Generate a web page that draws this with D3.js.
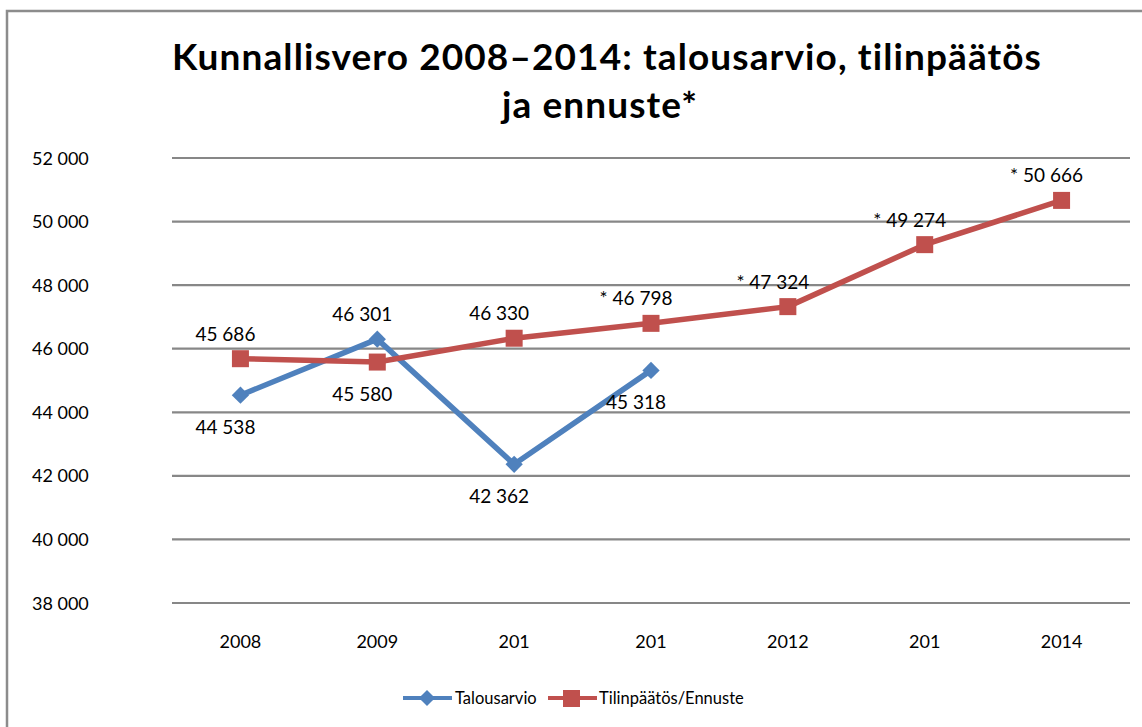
<!DOCTYPE html>
<html><head><meta charset="utf-8">
<script src="https://cdn.jsdelivr.net/npm/d3@7"></script>
<style>body{margin:0;background:#fff}svg{display:block}</style>
</head><body>
<svg id="c" width="1142" height="727"></svg>
<script>
const categories = ["2008","2009","201","201","2012","201","2014"];
const talousarvio = [44538, 46301, 42362, 45318, null, null, null];
const tilinpaatos = [45686, 45580, 46330, 46798, 47324, 49274, 50666];
const talousLabels = ["44 538","46 301","42 362","45 318"];
const tilinLabels = ["45 686","45 580","46 330","* 46 798","* 47 324","* 49 274","* 50 666"];
const talousLabelPos = ["below","above","below","below"];
const tilinLabelPos = ["above","below","above","above","above","above","above"];
const yTicks = [38000,40000,42000,44000,46000,48000,50000,52000];
const tickLabels = ["38 000","40 000","42 000","44 000","46 000","48 000","50 000","52 000"];
const seriesNames = ["Talousarvio","Tilinpäätös/Ennuste"];

const svg = d3.select("#c");
const font = "Lato, 'Open Sans', sans-serif";
const blue = "#4F81BD", red = "#C0504D";

// border
svg.append("path").attr("d","M7,740 L7,11 L1150,11").attr("fill","none").attr("stroke","#8c8c8c").attr("stroke-width",2.5);

const x = d3.scaleBand().domain(d3.range(categories.length)).range([172,1130]);
const y = d3.scaleLinear().domain([38000,52000]).range([603,158]);

// gridlines
svg.append("g").selectAll("line").data(yTicks).join("line")
  .attr("x1",172).attr("x2",1130).attr("y1",d=>y(d)).attr("y2",d=>y(d))
  .attr("stroke","#878787").attr("stroke-width",2.2);

// y labels
svg.append("g").selectAll("text").data(yTicks).join("text")
  .attr("x",32).attr("y",d=>y(d)+6.5).text((d,i)=>tickLabels[i])
  .attr("font-family",font).attr("font-size",18).attr("fill","#000");

// x labels
svg.append("g").selectAll("text").data(categories).join("text")
  .attr("x",(d,i)=>x(i)+x.bandwidth()/2).attr("y",647.5).attr("text-anchor","middle")
  .text(d=>d).attr("font-family",font).attr("font-size",18).attr("fill","#000");

// title
const t = svg.append("text").attr("text-anchor","middle").attr("font-family",font)
  .attr("font-weight","bold").attr("font-size",37).attr("letter-spacing",1.1).attr("fill","#000");
t.append("tspan").attr("x",607).attr("y",70).text("Kunnallisvero 2008–2014: talousarvio, tilinpäätös");
t.append("tspan").attr("x",600).attr("y",118).text("ja ennuste*");

const cx = i => x(i)+x.bandwidth()/2;
const line = d3.line().defined(d=>d!=null).x((d,i)=>cx(i)).y(d=>y(d));

svg.append("path").datum(talousarvio).attr("d",line).attr("fill","none").attr("stroke",blue).attr("stroke-width",5.5).attr("stroke-linejoin","round");
svg.append("path").datum(tilinpaatos).attr("d",line).attr("fill","none").attr("stroke",red).attr("stroke-width",5.5).attr("stroke-linejoin","round");

const diamond = d3.symbol().type(d3.symbolSquare).size(150);
svg.append("g").selectAll("path").data(talousarvio.map((v,i)=>({v,i})).filter(d=>d.v!=null)).join("path")
  .attr("d",diamond).attr("transform",d=>`translate(${cx(d.i)},${y(d.v)}) rotate(45)`).attr("fill",blue);
svg.append("g").selectAll("rect").data(tilinpaatos.map((v,i)=>({v,i}))).join("rect")
  .attr("x",d=>cx(d.i)-8.5).attr("y",d=>y(d.v)-8.5).attr("width",17).attr("height",17).attr("fill",red);

function labels(vals, texts, pos){
  svg.append("g").selectAll("text").data(texts.map((t,i)=>({t,i,v:vals[i],p:pos[i]}))).join("text")
    .attr("x",d=>cx(d.i)-15).attr("y",d=>y(d.v)+(d.p==="above"?-18:39))
    .attr("text-anchor","middle").attr("font-family",font).attr("font-size",19).attr("fill","#000")
    .text(d=>d.t);
}
labels(talousarvio, talousLabels, talousLabelPos);
labels(tilinpaatos, tilinLabels, tilinLabelPos);

// legend
const lg = svg.append("g").attr("font-family",font).attr("font-size",16.5);
lg.append("line").attr("x1",403).attr("x2",452).attr("y1",698).attr("y2",698).attr("stroke",blue).attr("stroke-width",4);
lg.append("path").attr("d",d3.symbol().type(d3.symbolSquare).size(130)()).attr("transform","translate(427,698) rotate(45)").attr("fill",blue);
lg.append("text").attr("x",455).attr("y",704).text(seriesNames[0]);
lg.append("line").attr("x1",548).attr("x2",597).attr("y1",698).attr("y2",698).attr("stroke",red).attr("stroke-width",4);
lg.append("rect").attr("x",563).attr("y",690).attr("width",17).attr("height",17).attr("fill",red);
lg.append("text").attr("x",599).attr("y",704).text(seriesNames[1]);
</script>
</body></html>
